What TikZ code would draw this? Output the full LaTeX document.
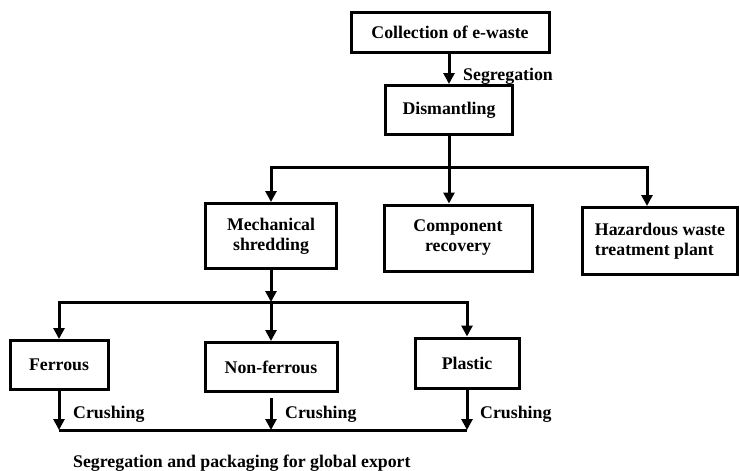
\documentclass[tikz,border=0pt]{standalone}
\usepackage{fontspec}
\setmainfont{Liberation Serif}
\usetikzlibrary{arrows.meta,positioning}

\begin{document}
\begin{tikzpicture}[
  x=1pt,y=-1pt,
  link/.style={draw=black,line width=3pt},
  arr/.style={link,-{Triangle[length=11pt,width=11pt]}},
  stage/.style={draw=black,line width=3pt,fill=white,align=center,
    font=\bfseries\fontsize{17.8}{20}\selectfont,inner sep=0pt},
  lbl/.style={anchor=west,inner sep=0pt,
    font=\bfseries\fontsize{17.8}{20}\selectfont}]

\useasboundingbox (0,0) rectangle (740,471);

\node[stage,minimum width=198pt,minimum height=40pt] (collect) at (450,32)
  {Collection of e-waste};
\node[stage,minimum width=127pt,minimum height=49pt] (dismantle) at (449,110)
  {Dismantling};

\node[stage,minimum width=131pt,minimum height=65pt] (mech) at (271,236)
  {Mechanical\\shredding};
\node[stage,minimum width=148pt,minimum height=66pt] (comp) at (458,238)
  {Component\\recovery};
\node[stage,align=left,minimum width=155pt,minimum height=67pt] (haz) at (660,241)
  {Hazardous waste\\treatment plant};

\node[stage,minimum width=98pt,minimum height=49pt] (ferrous) at (59,365)
  {Ferrous};
\node[stage,minimum width=132pt,minimum height=49pt] (nonferrous) at (271,367)
  {Non-ferrous};
\node[stage,minimum width=104pt,minimum height=50pt] (plastic) at (467,363)
  {Plastic};

\node[lbl] (segr) at (463,76) {Segregation};
\node[lbl] (crush1) at (73,414) {Crushing};
\node[lbl] (crush2) at (285,414) {Crushing};
\node[lbl] (crush3) at (480,414) {Crushing};
\node[lbl] (export) at (73,463) {Segregation and packaging for global export};

\coordinate (bus1) at (450,167);
\coordinate (bus2) at (271,302);
\coordinate (out1) at (59,430);
\coordinate (out2) at (271,430);
\coordinate (out3) at (467,430);

\draw[arr] (collect.south -| dismantle) -- (dismantle.north);
\draw[arr] (dismantle.south) -- (dismantle.south |- comp.north);
\draw[arr] (bus1) -| (mech.north);
\draw[arr] (bus1) -| ([xshift=-13pt]haz.north);

\draw[arr] (mech.south) -- (bus2);
\draw[arr] (bus2) -| (ferrous.north);
\draw[arr] (bus2) -| (plastic.north);
\draw[arr] (bus2) -- (nonferrous.north);

\draw[arr] (ferrous.south) -- (out1);
\draw[arr] ([yshift=-5pt]nonferrous.south) -- (out2);
\draw[arr] (plastic.south) -- (out3);
\draw[link] (out1) -- (out3);
\end{tikzpicture}
\end{document}
